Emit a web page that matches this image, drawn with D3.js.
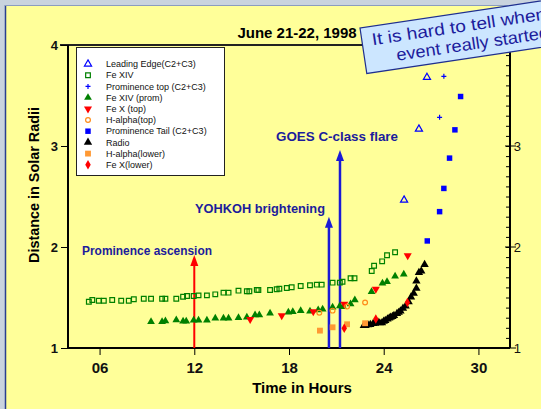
<!DOCTYPE html>
<html>
<head>
<meta charset="utf-8">
<script src="https://cdn.jsdelivr.net/npm/d3@7"></script>
<style>
  body { margin: 0; padding: 0; }
  svg { display: block; }
  text { font-family: "Liberation Sans", Arial, sans-serif; }
</style>
</head>
<body>
<div id="chart"></div>
<script>
// values (hours, solar radii)
var feXivHours = [5.32,5.54,5.95,6.27,6.80,7.37,7.85,8.17,8.80,9.26,9.96,10.17,10.86,11.29,11.54,11.96,12.27,12.80,13.33,13.85,14.17,14.80,15.33,15.49,15.96,16.06,16.80,17.22,17.39,17.86,18.17,18.74,19.33,19.76,20.07,20.76,21.22,21.39,21.90,22.15,23.24,23.39,23.90,24.21,24.72];
var feXivRadii = [1.458,1.475,1.468,1.468,1.475,1.468,1.468,1.482,1.488,1.488,1.488,1.488,1.488,1.508,1.515,1.515,1.521,1.521,1.531,1.548,1.548,1.568,1.562,1.562,1.575,1.574,1.574,1.581,1.587,1.594,1.601,1.614,1.621,1.627,1.627,1.647,1.647,1.656,1.690,1.690,1.762,1.815,1.858,1.918,1.948];

var promHours = [9.26,9.96,10.17,10.86,11.29,11.49,11.96,12.27,12.80,13.33,13.85,14.17,14.80,15.33,15.85,16.12,16.80,17.96,18.24,18.74,19.33,19.85,20.13,20.76,21.22,21.43,21.90,22.17,23.23,23.92,24.21,24.72,25.27];
var promRadii = [1.260,1.260,1.267,1.277,1.264,1.264,1.274,1.274,1.274,1.294,1.294,1.294,1.300,1.304,1.327,1.327,1.344,1.353,1.359,1.369,1.363,1.376,1.383,1.403,1.416,1.409,1.436,1.475,1.557,1.641,1.656,1.710,1.730];

var radioHours = [22.74,22.85,23.01,23.15,23.33,23.45,23.64,23.75,23.89,24.00,24.10,24.24,24.35,24.44,24.55,24.65,24.84,24.95,25.06,25.22,25.39,25.58,25.73,25.90,26.07,26.07,26.23,26.38,26.59];
var radioRadii = [1.221,1.222,1.228,1.232,1.241,1.244,1.254,1.248,1.250,1.264,1.272,1.287,1.296,1.304,1.312,1.320,1.340,1.352,1.366,1.393,1.416,1.458,1.505,1.542,1.591,1.663,1.746,1.762,1.825];

var feXTopHours = [15.54,17.54,19.54,21.50,23.50,25.52];
var feXTopRadii = [1.284,1.320,1.360,1.436,1.584,1.914];

var feXLowHours = [21.50,23.50,25.50];
var feXLowRadii = [1.195,1.287,1.450];

var haTopHours = [19.92,20.76,21.68,22.82];
var haTopRadii = [1.350,1.370,1.410,1.450];

var haLowHours = [19.96,20.76,21.68,22.82];
var haLowRadii = [1.172,1.205,1.235,1.245];

var leadHours = [25.29,26.23,26.74];
var leadRadii = [2.465,3.168,3.680];

var promTopHours = [27.54,27.81];
var promTopRadii = [3.284,3.690];

var tailHours = [26.76,27.54,27.81,28.17,28.51,28.87];
var tailRadii = [2.06,2.35,2.58,2.88,3.16,3.49];

var legendNames = ["Leading Edge(C2+C3)","Fe XIV","Prominence top (C2+C3)","Fe XIV (prom)","Fe X (top)","H-alpha(top)","Prominence Tail (C2+C3)","Radio","H-alpha(lower)","Fe X(lower)"];

var xMajor = [6,12,18,24,30];
var yMajor = [1,2,3,4];

var notes = ["Prominence ascension","YOHKOH brightening","GOES C-class flare"];
var noteHours = [12,20.53,21.23];
var noteTips = [1.92,2.30,2.96];

var W = 541, H = 409;
var svg = d3.select("#chart").append("svg").attr("width", W).attr("height", H);

// slide background
svg.append("rect").attr("width", W).attr("height", H).attr("fill", "#c9d3de");
svg.append("rect").attr("x", 6).attr("y", 6).attr("width", W - 6).attr("height", H - 6).attr("fill", "#ffff99");
svg.append("line").attr("x1", 5.5).attr("x2", 5.5).attr("y1", 5).attr("y2", H).attr("stroke", "#2a3f8f").attr("stroke-width", 1.5);
svg.append("line").attr("x1", 5).attr("x2", W).attr("y1", 5.5).attr("y2", 5.5).attr("stroke", "#8a9cbf").attr("stroke-width", 1);

var x = d3.scaleLinear().domain([4, 32]).range([68, 510]);
var y = d3.scaleLinear().domain([1, 4]).range([348, 45]);

// title
svg.append("text").attr("x", 297).attr("y", 38).attr("text-anchor", "middle")
  .attr("font-size", 15).attr("font-weight", "bold").text("June 21-22, 1998");

// frame top line
svg.append("line").attr("x1", 60).attr("x2", 510).attr("y1", y(4)).attr("y2", y(4))
  .attr("stroke", "#222").attr("stroke-width", 2);

// x axis
var gx = svg.append("g").attr("transform", "translate(0," + y(1) + ")");
gx.call(d3.axisBottom(x).tickValues(d3.range(4, 33)).tickSize(4).tickFormat(""));
gx.call(d3.axisBottom(x).tickValues(xMajor).tickSize(7).tickFormat(d3.format("02d")));
gx.selectAll(".domain").attr("stroke-width", 2).attr("d", "M68,0H510");
gx.selectAll("text").attr("font-size", 15).attr("font-weight", "bold").attr("font-family", "Liberation Sans, Arial").attr("dy", "1.0em").attr("fill", "#111");

// left axis
var gy = svg.append("g").attr("transform", "translate(" + x(4) + ",0)");
gy.call(d3.axisLeft(y).tickValues(d3.range(10, 41).map(function(d){ return d / 10; })).tickSize(3).tickFormat(""));
gy.call(d3.axisLeft(y).tickValues(yMajor).tickSize(7).tickFormat(d3.format("d")));
gy.selectAll(".domain").attr("stroke-width", 2).attr("d", "M0,45V348");
gy.selectAll("text").attr("font-size", 13).attr("font-weight", "bold").attr("font-family", "Liberation Sans, Arial").attr("fill", "#111");

// right axis
var gr = svg.append("g").attr("transform", "translate(" + x(32) + ",0)");
gr.call(d3.axisLeft(y).tickValues(d3.range(10, 41).map(function(d){ return d / 10; })).tickSize(4).tickFormat(""));
gr.selectAll(".domain").attr("stroke-width", 2).attr("d", "M0,45V348");
gr.selectAll(".major").data(yMajor.slice(0, 3)).enter().append("line")
  .attr("x1", -5).attr("x2", 6).attr("y1", function(d){ return y(d); }).attr("y2", function(d){ return y(d); })
  .attr("stroke", "#000");
gr.selectAll(".rlab").data(yMajor.slice(0, 3)).enter().append("text")
  .attr("x", 11).attr("y", function(d){ return y(d); }).attr("dy", "0.35em")
  .attr("font-size", 13).attr("fill", "#111").text(function(d){ return d; });

// axis titles
svg.append("text").attr("x", 302).attr("y", 393).attr("text-anchor", "middle")
  .attr("font-size", 15).attr("font-weight", "bold").text("Time in Hours");
svg.append("text").attr("transform", "translate(39,185) rotate(-90)").attr("text-anchor", "middle")
  .attr("font-size", 14).attr("font-weight", "bold").attr("textLength", 156).attr("lengthAdjust", "spacingAndGlyphs")
  .text("Distance in Solar Radii");

// annotation arrows
var noteColors = ["#ff0000", "#1a1ad6", "#1a1ad6"];
noteHours.forEach(function(h, i) {
  var px = x(h), tip = y(noteTips[i]);
  svg.append("line").attr("x1", px).attr("x2", px).attr("y1", y(1)).attr("y2", tip + 8)
    .attr("stroke", noteColors[i]).attr("stroke-width", i ? 2.5 : 2);
  svg.append("path").attr("d", "M" + px + "," + tip + "L" + (px - 4) + "," + (tip + 11) + "L" + (px + 4) + "," + (tip + 11) + "Z")
    .attr("fill", noteColors[i]);
});
var notePos = [[82, 255], [195, 213], [276, 141]];
var noteLen = [130, 130, 122];
notes.forEach(function(t, i) {
  svg.append("text").attr("x", notePos[i][0]).attr("y", notePos[i][1])
    .attr("font-family", "DejaVu Sans, sans-serif").attr("font-size", 12).attr("font-weight", "bold")
    .attr("fill", "#1c1c9c").attr("textLength", noteLen[i]).attr("lengthAdjust", "spacingAndGlyphs").text(t);
});

// series styles
function sym(type, size) { return d3.symbol().type(type).size(size)(); }
var series = [
  {h: leadHours, r: leadRadii, path: sym(d3.symbolTriangle, 22), fill: "none", stroke: "#0000ff"},
  {h: feXivHours, r: feXivRadii, path: sym(d3.symbolSquare, 22), fill: "none", stroke: "#008000"},
  {h: promTopHours, r: promTopRadii, path: "M-2.5,0H2.5M0,-2.5V2.5", fill: "none", stroke: "#0000ff"},
  {h: promHours, r: promRadii, path: sym(d3.symbolTriangle, 26), fill: "#008000", stroke: "none"},
  {h: feXTopHours, r: feXTopRadii, path: sym(d3.symbolTriangle, 28), fill: "#ff0000", stroke: "none", rot: 180},
  {h: haTopHours, r: haTopRadii, path: sym(d3.symbolCircle, 18), fill: "none", stroke: "#ff8c1a"},
  {h: tailHours, r: tailRadii, path: sym(d3.symbolSquare, 30), fill: "#0000ff", stroke: "none"},
  {h: radioHours, r: radioRadii, path: sym(d3.symbolTriangle, 30), fill: "#000", stroke: "none"},
  {h: haLowHours, r: haLowRadii, path: sym(d3.symbolSquare, 34), fill: "#ff9933", stroke: "none"},
  {h: feXLowHours, r: feXLowRadii, path: sym(d3.symbolDiamond, 26), fill: "#ff0000", stroke: "none"}
];

series.forEach(function(s) {
  svg.append("g").selectAll("path").data(s.h).enter().append("path")
    .attr("d", s.path)
    .attr("transform", function(d, i) { return "translate(" + x(d) + "," + y(s.r[i]) + ")" + (s.rot ? " rotate(" + s.rot + ")" : ""); })
    .attr("fill", s.fill).attr("stroke", s.stroke).attr("stroke-width", 1.2);
});

// legend
var lg = svg.append("g");
lg.append("rect").attr("x", 76.5).attr("y", 47.5).attr("width", 148).attr("height", 128)
  .attr("fill", "#fff").attr("stroke", "#222").attr("stroke-width", 1);
legendNames.forEach(function(n, i) {
  var ly = 64 + i * 11.2, s = series[i];
  lg.append("path").attr("d", s.path)
    .attr("transform", "translate(88," + ly + ")" + (s.rot ? " rotate(" + s.rot + ")" : ""))
    .attr("fill", s.fill).attr("stroke", s.stroke).attr("stroke-width", 1.2);
  lg.append("text").attr("x", 106).attr("y", ly).attr("dy", "0.35em")
    .attr("font-size", 9).attr("fill", "#111").text(n);
});

// callout box
var cb = svg.append("g").attr("transform", "translate(360,28) rotate(-8.5)");
cb.append("rect").attr("width", 240).attr("height", 46)
  .attr("fill", "#cce6ff").attr("stroke", "#1f2f8f").attr("stroke-width", 1.2);
cb.append("text").attr("x", 10).attr("y", 19).attr("font-family", "DejaVu Sans, sans-serif")
  .attr("font-size", 17).attr("fill", "#1c1c9c").attr("textLength", 176).attr("lengthAdjust", "spacingAndGlyphs")
  .text("It is hard to tell when");
cb.append("text").attr("x", 32).attr("y", 38).attr("font-family", "DejaVu Sans, sans-serif")
  .attr("font-size", 17).attr("fill", "#1c1c9c").attr("textLength", 154).attr("lengthAdjust", "spacingAndGlyphs")
  .text("event really started");
</script>
</body>
</html>
